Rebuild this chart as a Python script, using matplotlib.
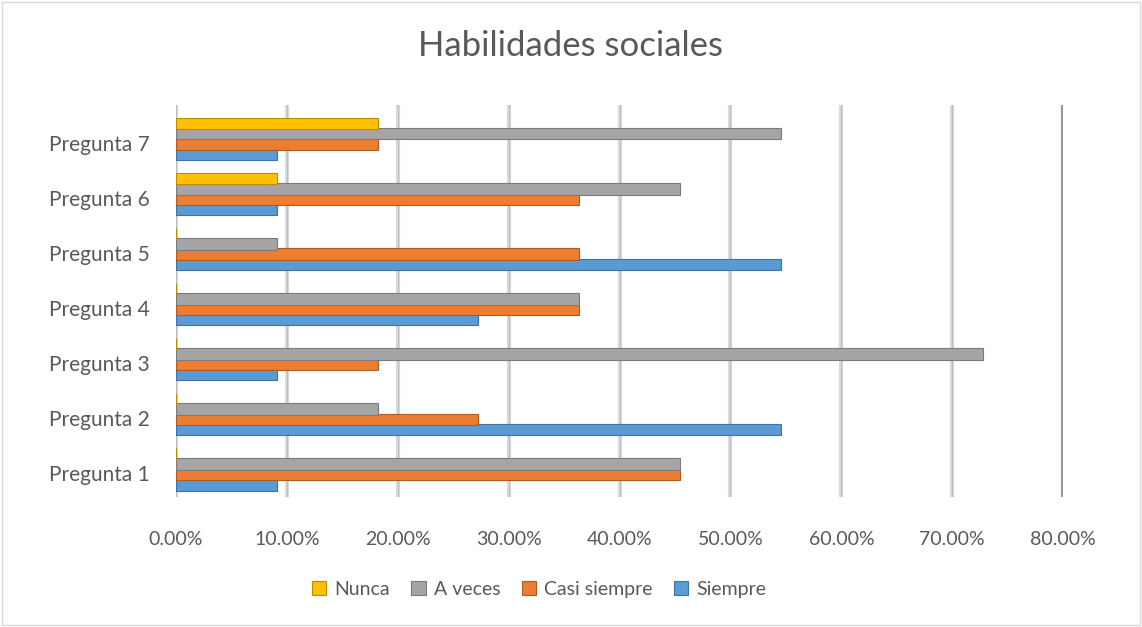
import matplotlib.pyplot as plt
import numpy as np
from matplotlib.patches import Rectangle

preguntas = ["Pregunta 1", "Pregunta 2", "Pregunta 3", "Pregunta 4",
             "Pregunta 5", "Pregunta 6", "Pregunta 7"]
siempre = [9.09, 54.55, 9.09, 27.27, 54.55, 9.09, 9.09]
casi_siempre = [45.45, 27.27, 18.18, 36.36, 36.36, 36.36, 18.18]
a_veces = [45.45, 18.18, 72.73, 36.36, 9.09, 45.45, 54.55]
nunca = [0, 0, 0, 0, 0, 9.09, 18.18]

series = [
    ("Siempre", siempre, "#5B9BD5", "#41719C"),
    ("Casi siempre", casi_siempre, "#ED7D31", "#AE5A21"),
    ("A veces", a_veces, "#A5A5A5", "#7B7B7B"),
    ("Nunca", nunca, "#FFC000", "#BC8C00"),
]

plt.rcParams["font.family"] = ["Lato", "DejaVu Sans"]
txt = "#595959"

fig = plt.figure(figsize=(11.42, 6.27), dpi=100)
ax = fig.add_axes([0.154, 0.207, 0.777, 0.626])

y = np.arange(len(preguntas))
h = 0.21
step = 0.187
for i, (name, vals, col, edge) in enumerate(series):
    off = (i - 1.5) * step + 0.07
    ax.barh(y + off, vals, height=h, color=col, edgecolor=edge, linewidth=0.8,
            label=name, zorder=3)

ax.set_xlim(0, 80)
ax.set_ylim(-0.436, 6.69)
ticks = np.arange(0, 81, 10)
ax.set_xticks(ticks)
ax.set_xticklabels([f"{t:.2f}%" for t in ticks], fontsize=14, color=txt)
ax.set_yticks(y)
ax.set_yticklabels(preguntas, fontsize=15, color=txt)
ax.tick_params(axis="x", length=0, pad=24)
ax.tick_params(axis="y", length=0, pad=19)
for t in ticks:
    c = "#9a9a9a" if t == 80 else "#dadada"
    ax.axvline(t, color=c, lw=3, zorder=1)
    ax.axvline(t, color="#bdbdbd" if t < 80 else "#8a8a8a", lw=0.8, zorder=1)
for s in ax.spines.values():
    s.set_visible(False)

fig.suptitle("Habilidades sociales", fontsize=25, color=txt, y=0.952)

handles, labels = ax.get_legend_handles_labels()
fig.legend(handles[::-1], labels[::-1], loc="center", bbox_to_anchor=(0.472, 0.06),
           ncol=4, frameon=False, fontsize=14, labelcolor=txt,
           handlelength=0.75, handleheight=0.75, handletextpad=0.4, columnspacing=1.1)

fig.add_artist(Rectangle((0.002, 0.003), 0.996, 0.994, transform=fig.transFigure,
                         fill=False, edgecolor="#d9d9d9", lw=1))

fig.savefig("out.png", dpi=100, facecolor="white")
